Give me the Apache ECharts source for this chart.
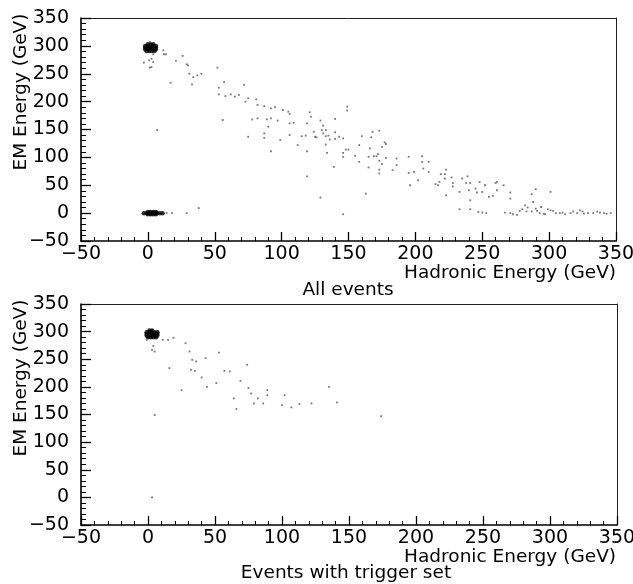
<!DOCTYPE html>
<html><head><meta charset="utf-8">
<script src="https://cdn.jsdelivr.net/npm/echarts@6/dist/echarts.min.js"></script>
<style>html,body{margin:0;padding:0;background:#fff}#c{width:633px;height:584px}</style>
</head><body><div id="c"></div>
<script>
// Axis ranges / ticks
const xRange = [-50, 350];
const yRange = [-50, 350];
const tickStep = 50;

// Titles and names
const xName = 'Hadronic Energy (GeV)';
const yName = 'EM Energy (GeV)';
const panelTitles = ['All events', 'Events with trigger set'];

// Top panel: dense clusters (Hadronic, EM)
const topDenseHigh = [
  [0,303],[2,303],[4,303],
  [-2,300],[0,300],[2,300],[4,300],[6,300],
  [-2,297],[0,297],[2,297],[4,297],[6,297],
  [-2,294],[0,294],[2,294],[4,294],[6,294],
  [-1,291],[1,291],[3,291],[5,291]
];
const topDenseZero = [
  [-3,0],[-1,0],[1,0],[3,0],[5,0],[7,0],[9,0],[11,0],
  [0,2],[2,2],[4,2],[6,2],[0,-2],[2,-2],[4,-2],[6,-2]
];
// Top panel: scattered events
const topSparse = [
  [11.5,292],[12,285],[13.5,285],[4,285],[2.7,277],[1,274],[4,271],[-3,270],[2.7,262],[1.5,261],[1.5,307],
  [26,282],[21,273],[29,267],[30,265],[31,250],[34,244],[37,247],[40,250],[52,261],[17,234],[33,231],
  [57,235],[53,225],[53,213],[58,210],[62,213],[65,209],[68,212],[72,230],[73,200],[75,206],[81,204],
  [82,194],[87,192],[92,188],[95,190],[101,185],[105,182],[106,178],[121,181],[122,173],[119,161],
  [129,166],[131,157],[140,169],[149,191],[149,184],[56,167],[78,168],[82,170],[89,168],[92,170],
  [97,166],[106,161],[109,162],[90,155],[75,137],[87,143],[87,135],[99,131],[106,140],[115,138],
  [118,139],[124,146],[125,137],[126,136],[130,149],[133,149],[131,143],[133,138],[135,139],[136,132],
  [140,145],[140,133],[143,137],[146,134],[133,123],[112,122],[92,111],[119,111],[134,108],[146,108],
  [148,114],[150,114],[155,103],[158,122],[160,138],[167,136],[168,146],[173,148],[166,116],[165,101],
  [169,102],[171,102],[172,106],[175,119],[177,127],[178,124],[178,99],[173,94],[175,88],[165,82],
  [173,78],[173,71],[146,101],[139,83],[158,92],[119,66],[129,28],[163,35],[146,-2],[7,149],
  [14,0],[18,0],[29,0],[38,9],
  [183,77],[186,86],[186,98],[195,101],[196,50],[195,72],[199,74],[202,59],[205,102],[205,92],
  [206,80],[210,92],[210,74],[215,52],[218,56],[219,70],[222,70],[223,78],[217,50],[222,62],
  [223,32],[227,64],[228,48],[228,54],[233,38],[233,7],[235,62],[238,54],[239,66],[240,41],
  [241,54],[241,23],[241,7],[245,44],[246,37],[248,56],[247,2],[250,1],[250,38],[252,50],
  [253,0],[255,29],[258,31],[260,54],[261,41],[261,56],[266,50],[267,1],[271,37],[271,26],
  [271,0],[273,-2],[276,-3],[278,4],[280,7],[282,14],[283,3],[284,10],[287,3],[287,34],
  [288,20],[290,43],[290,8],[291,4],[293,0],[294,11],[296,-1],[297,-2],[299,7],[301,38],
  [301,5],[303,4],[305,0],[308,0],[310,1],[312,-2],[316,0],[318,3],[321,0],[323,5],
  [325,3],[326,-1],[329,0],[333,0],[336,3],[338,1],[341,0],[343,-1],[346,0]
];

// Bottom panel: dense cluster and scattered events
const botDenseHigh = [
  [1,302],[3,302],
  [-1,299],[1,299],[3,299],[5,299],[7,299],
  [-1,296],[1,296],[3,296],[5,296],[7,296],
  [-1,293],[1,293],[3,293],[5,293],[7,293],
  [0,290],[2,290],[4,290],[6,290]
];
const botSparse = [
  [-1,285],[4,274],[3,267],[5,264],[11,285],[15,285],[19,289],[28,279],[31,264],[33,249],
  [36,246],[43,252],[32,231],[35,229],[16,234],[40,217],[44,200],[25,194],[53,262],[57,229],
  [61,228],[74,240],[69,211],[64,179],[75,198],[77,188],[79,170],[82,179],[86,170],[89,194],
  [89,185],[66,160],[100,167],[102,185],[107,163],[113,169],[122,170],[51,207],[5,149],[3,0],
  [135,200],[141,172],[174,147]
];

const fmt = v => (v < 0 ? '\u2212' + Math.abs(v) : String(v));
const FONT = 'DejaVu Sans';

function xAx(gi){
  return {type:'value', gridIndex:gi, min:xRange[0], max:xRange[1], interval:tickStep,
    axisLine:{show:true, onZero:false, lineStyle:{color:'#000', width:1.6}},
    axisTick:{show:true, inside:true, length:9, lineStyle:{color:'#000', width:1.3}},
    minorTick:{show:true, splitNumber:5, length:4, lineStyle:{color:'#000', width:1}},
    splitLine:{show:false},
    axisLabel:{color:'#000', fontFamily:FONT, fontSize:19, lineHeight:16, margin:5, formatter:fmt}};
}
function yAx(gi){
  return {type:'value', gridIndex:gi, min:yRange[0], max:yRange[1], interval:tickStep,
    axisLine:{show:true, onZero:false, lineStyle:{color:'#000', width:1.6}},
    axisTick:{show:true, inside:true, length:10, lineStyle:{color:'#000', width:1.3}},
    minorTick:{show:true, splitNumber:5, length:5, lineStyle:{color:'#000', width:1}},
    splitLine:{show:false},
    axisLabel:{color:'#000', fontFamily:FONT, fontSize:19, lineHeight:14, margin:12, formatter:fmt}};
}
// frame lines (top / right) drawn as bare axes
function frameX(gi){
  return {type:'value', gridIndex:gi, position:'top', min:xRange[0], max:xRange[1], interval:tickStep,
    axisLine:{show:true, onZero:false, lineStyle:{color:'#222', width:1}},
    axisTick:{show:false}, axisLabel:{show:false}, splitLine:{show:false}};
}
function frameY(gi){
  return {type:'value', gridIndex:gi, position:'right', min:yRange[0], max:yRange[1], interval:tickStep,
    axisLine:{show:true, onZero:false, lineStyle:{color:'#222', width:1}},
    axisTick:{show:false}, axisLabel:{show:false}, splitLine:{show:false}};
}
function dense(data, xi){
  return {type:'scatter', xAxisIndex:xi, yAxisIndex:xi, data:data, symbol:'circle', symbolSize:4.5,
    itemStyle:{color:'#000'}, silent:true};
}
function sparse(data, xi){
  return {type:'scatter', xAxisIndex:xi, yAxisIndex:xi, data:data, symbol:'rect', symbolSize:1.8,
    itemStyle:{color:'#555'}, silent:true};
}
function txt(x, y, s, size, align, rot){
  return {type:'text', x:x, y:y, rotation:rot||0,
    style:{text:s, fill:'#000', font:size+'px "'+FONT+'"', textAlign:align, textVerticalAlign:'middle'}};
}

const chart = echarts.init(document.getElementById('c'));
chart.setOption({
  animation:false,
  grid:[
    {left:81, top:18, width:535, height:223, outerBoundsMode:'none'},
    {left:81, top:304, width:536, height:221, outerBoundsMode:'none'}
  ],
  xAxis:[xAx(0), xAx(1), frameX(0), frameX(1)],
  yAxis:[yAx(0), yAx(1), frameY(0), frameY(1)],
  series:[
    dense(topDenseHigh,0), dense(topDenseZero,0), sparse(topSparse,0),
    dense(botDenseHigh,1), sparse(botSparse,1)
  ],
  graphic:[
    txt(616, 273, xName, 18.5, 'right'),
    txt(616, 557, xName, 18.5, 'right'),
    txt(21, 92, yName, 18.5, 'center', Math.PI/2),
    txt(21, 378, yName, 18.5, 'center', Math.PI/2),
    txt(348, 290, panelTitles[0], 18.5, 'center'),
    txt(346, 573, panelTitles[1], 18.5, 'center')
  ]
});
</script>
</body></html>
